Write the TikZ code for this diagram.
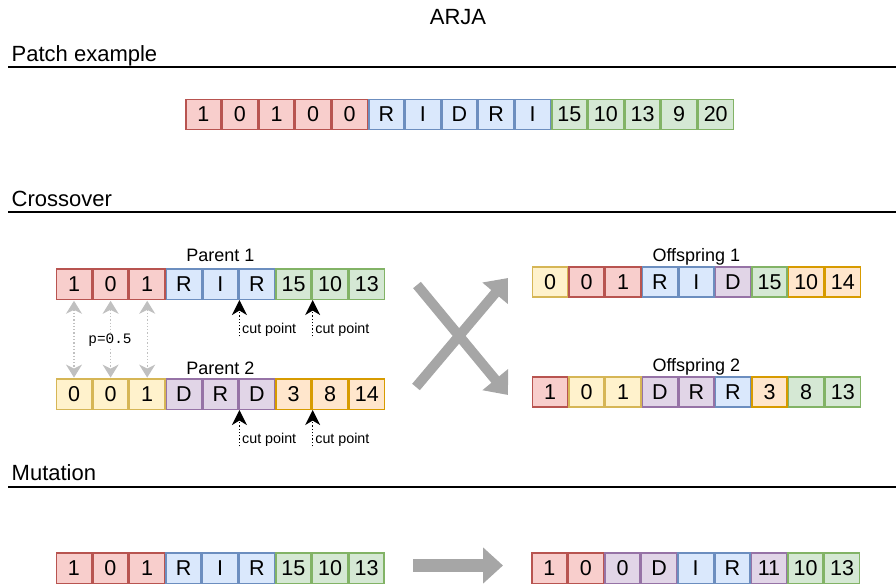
\documentclass[tikz,border=0pt]{standalone}
\usepackage{fontspec}
\setmainfont{Liberation Sans}
\setmonofont{Liberation Mono}
\usetikzlibrary{arrows.meta}

% draw.io-like palette
\definecolor{redfill}{HTML}{F8CECC}\definecolor{redline}{HTML}{B85450}
\definecolor{bluefill}{HTML}{DAE8FC}\definecolor{blueline}{HTML}{6C8EBF}
\definecolor{greenfill}{HTML}{D5E8D4}\definecolor{greenline}{HTML}{82B366}
\definecolor{yellowfill}{HTML}{FFF2CC}\definecolor{yellowline}{HTML}{D6B656}
\definecolor{purplefill}{HTML}{E1D5E7}\definecolor{purpleline}{HTML}{9673A6}
\definecolor{orangefill}{HTML}{FFE6CC}\definecolor{orangeline}{HTML}{D79B00}
\definecolor{bigarrow}{HTML}{A6A6A6}
\definecolor{swaparrow}{HTML}{C0C0C0}

\newcommand{\cellw}{36.6}
% one row of genes: prefix, left x, centre y, list of style/text
\newcommand{\generow}[4]{%
  \foreach \st/\tx [count=\i] in {#4} {
    \node[cell,\st] (#1\i) at ({#2+(\i-0.5)*\cellw},#3) {\tx};
  }%
}

\tikzset{
  cell/.style={draw, line width=1.5pt, minimum width=35.1pt, minimum height=30.2pt,
    inner sep=0pt, outer sep=0pt, font=\fontsize{21.5}{24}\selectfont},
  cr/.style={fill=redfill, draw=redline},
  cb/.style={fill=bluefill, draw=blueline},
  cg/.style={fill=greenfill, draw=greenline},
  cy/.style={fill=yellowfill, draw=yellowline},
  cp/.style={fill=purplefill, draw=purpleline},
  co/.style={fill=orangefill, draw=orangeline},
  heading/.style={anchor=base west, inner sep=0pt, font=\fontsize{22}{26}\selectfont},
  rowlabel/.style={anchor=base, inner sep=0pt, font=\fontsize{18}{22}\selectfont},
  cutlabel/.style={anchor=base west, inner sep=0pt, font=\fontsize{14.3}{17}\selectfont},
  rule/.style={line width=2pt, black},
  cutarrow/.style={line width=1.3pt, dash pattern=on 1.3pt off 2pt,
    -{Stealth[length=15pt, width=15pt, inset=4.5pt]}},
  swap/.style={swaparrow, line width=1.3pt, dash pattern=on 1.3pt off 2pt,
    {Stealth[length=13pt, width=16pt, inset=4pt]}-{Stealth[length=13pt, width=16pt, inset=4pt]},
    shorten <=1.5pt, shorten >=1.5pt},
  blockarrow/.style={bigarrow, line width=10pt,
    -{Triangle[length=20pt, width=32pt]}},
}

\begin{document}
\begin{tikzpicture}[x=1pt, y=-1pt]
\useasboundingbox (0,0) rectangle (896,585);

% title and section headings
\node[anchor=base, inner sep=0pt, font=\fontsize{22}{26}\selectfont] (title) at (458,25) {ARJA};

\node[heading] (hpatch) at (11.5,61.7) {Patch example};
\coordinate (r1a) at (8,67); \coordinate (r1b) at (896,67);
\draw[rule] (r1a) -- (r1b);

\node[heading] (hcross) at (11.5,206.7) {Crossover};
\coordinate (r2a) at (8,212.3); \coordinate (r2b) at (896,212.3);
\draw[rule] (r2a) -- (r2b);

\node[heading] (hmut) at (11.5,480.7) {Mutation};
\coordinate (r3a) at (8,486.7); \coordinate (r3b) at (896,486.7);
\draw[rule] (r3a) -- (r3b);

% patch example
\generow{pe}{185}{114.5}{cr/1,cr/0,cr/1,cr/0,cr/0,cb/R,cb/I,cb/D,cb/R,cb/I,cg/15,cg/10,cg/13,cg/9,cg/20}

% parents
\generow{pa}{55.7}{284.2}{cr/1,cr/0,cr/1,cb/R,cb/I,cb/R,cg/15,cg/10,cg/13}
\generow{pb}{55.7}{394.2}{cy/0,cy/0,cy/1,cp/D,cp/R,cp/D,co/3,co/8,co/14}
\node[rowlabel] (lpa) at (220.4,261.7) {Parent 1};
\node[rowlabel] (lpb) at (220.4,374.3) {Parent 2};

% offspring
\generow{oa}{531.7}{282}{cy/0,cr/0,cr/1,cb/R,cb/I,cp/D,cg/15,co/10,co/14}
\generow{ob}{531.7}{392}{cr/1,cy/0,cy/1,cp/D,cp/R,cb/R,co/3,cg/8,cg/13}
\node[rowlabel] (loa) at (696.4,261.7) {Offspring 1};
\node[rowlabel] (lob) at (696.4,371.7) {Offspring 2};

% uniform crossover of the first genes
\foreach \i in {1,2,3} {
  \draw[swap] (pa\i.south) -- (pb\i.north);
}
\node[fill=white, inner sep=1pt, anchor=base, font=\ttfamily\fontsize{14.4}{17}\selectfont]
  (prob) at (110,343.3) {p=0.5};

% cut points (shifts are in page direction: negative is downwards)
\coordinate (ca1) at ([yshift=-37pt]pa6.south west);
\coordinate (ca2) at ([yshift=-37pt]pa8.south west);
\coordinate (cb1) at ([yshift=-37pt]pb6.south west);
\coordinate (cb2) at ([yshift=-37pt]pb8.south west);
\draw[cutarrow] (ca1) -- ([yshift=-0.75pt]pa6.south west);
\draw[cutarrow] (ca2) -- ([yshift=-0.75pt]pa8.south west);
\draw[cutarrow] (cb1) -- ([yshift=-0.75pt]pb6.south west);
\draw[cutarrow] (cb2) -- ([yshift=-0.75pt]pb8.south west);
\node[cutlabel] (cla1) at ([xshift=2.5pt, yshift=-34pt]pa6.south west) {cut point};
\node[cutlabel] (cla2) at ([xshift=2.5pt, yshift=-34pt]pa8.south west) {cut point};
\node[cutlabel] (clb1) at ([xshift=2.5pt, yshift=-34pt]pb6.south west) {cut point};
\node[cutlabel] (clb2) at ([xshift=2.5pt, yshift=-34pt]pb8.south west) {cut point};

% crossing arrows from parents to offspring
\coordinate (xs1) at (417,285); \coordinate (xe1) at (508,395);
\coordinate (xs2) at (416,387); \coordinate (xe2) at (508,278);
\draw[blockarrow] (xs1) -- (xe1);
\draw[blockarrow] (xs2) -- (xe2);

% mutation
\generow{ma}{55.5}{568.3}{cr/1,cr/0,cr/1,cb/R,cb/I,cb/R,cg/15,cg/10,cg/13}
\generow{mb}{531}{568.3}{cr/1,cr/0,cp/0,cp/D,cb/I,cb/R,cp/11,cg/10,cg/13}
\coordinate (ms) at (413,565.5); \coordinate (me) at (503,565.5);
\draw[bigarrow, line width=13.5pt, -{Triangle[length=20pt, width=35pt]}] (ms) -- (me);
\end{tikzpicture}
\end{document}
